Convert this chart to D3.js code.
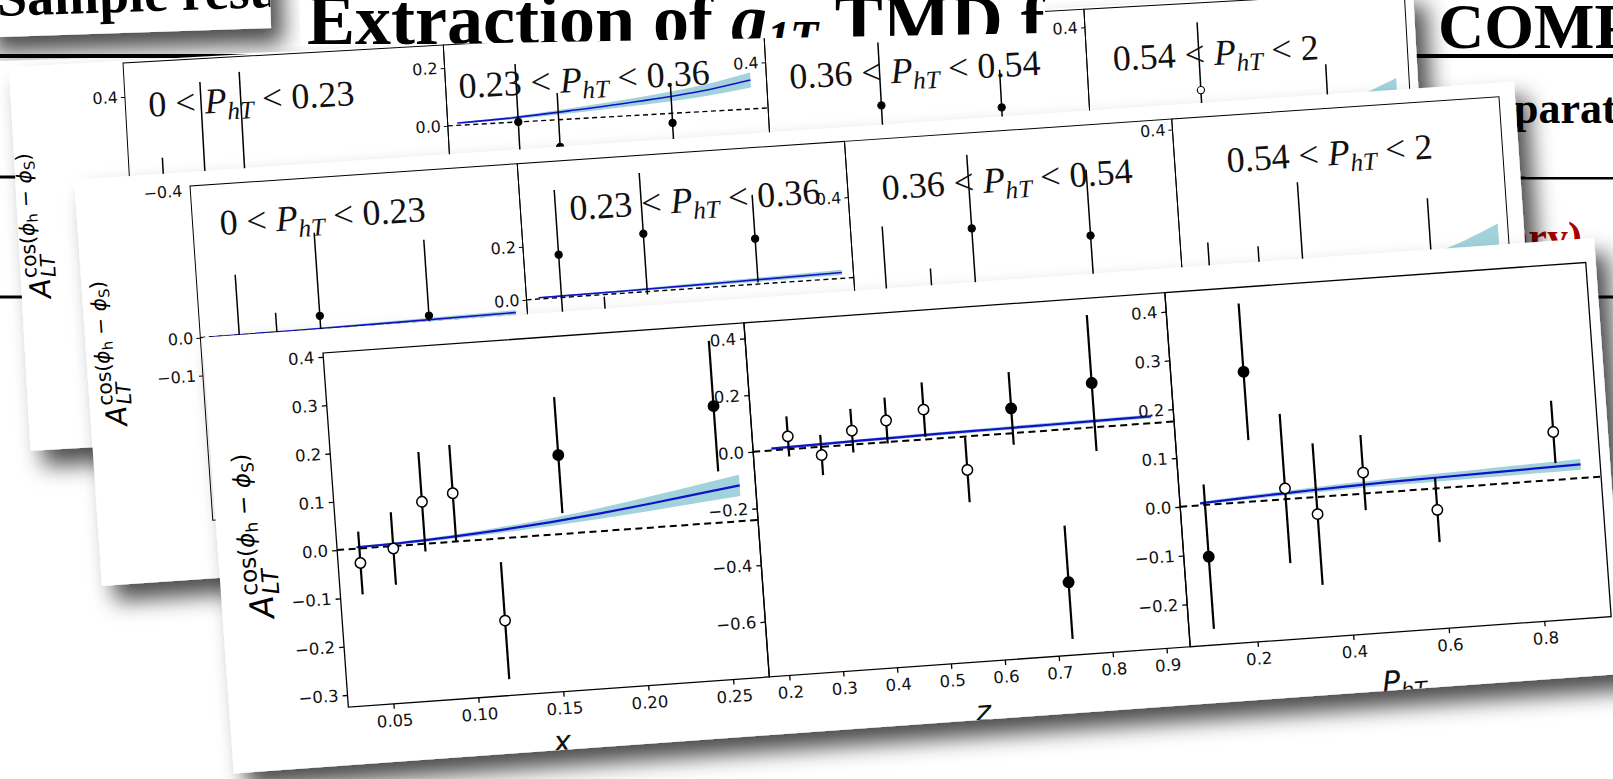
<!DOCTYPE html>
<html>
<head>
<meta charset="utf-8">
<script src="https://cdn.jsdelivr.net/npm/d3@7/dist/d3.min.js"></script>
<style>
  html, body { margin: 0; padding: 0; background: #fff; overflow: hidden; }
  svg { display: block; }
  text { font-family: "DejaVu Sans", sans-serif; }
</style>
</head>
<body>
<div id="chart"></div>
<script>
// ---------- front figure: A_LT vs x, z, P_hT ----------
const xBinX    = [0.0366, 0.0565, 0.0752, 0.0936, 0.1189, 0.157, 0.250];
const xBinY    = [-0.030, -0.005, 0.087, 0.100, -0.170, 0.163, 0.241];
const xBinE    = [0.065, 0.075, 0.103, 0.100, 0.121, 0.120, 0.135];
const xBinOpen = [1, 1, 1, 1, 1, 0, 0];
const xCurveX  = [0.035, 0.06, 0.09, 0.12, 0.15, 0.18, 0.21, 0.24, 0.262];
const xCurveY  = [0.003, 0.005, 0.010, 0.017, 0.026, 0.037, 0.050, 0.064, 0.074];
const xCurveW  = [0.002, 0.003, 0.004, 0.006, 0.008, 0.011, 0.015, 0.019, 0.022];

const zBinX    = [0.229, 0.289, 0.348, 0.4125, 0.483, 0.556, 0.645, 0.728, 0.797];
const zBinY    = [0.045, -0.029, 0.049, 0.076, 0.105, -0.118, 0.087, -0.538, 0.156];
const zBinE    = [0.071, 0.071, 0.077, 0.081, 0.096, 0.114, 0.128, 0.200, 0.240];
const zBinOpen = [1, 1, 1, 1, 1, 1, 0, 0, 0];
const zCurveX  = [0.197, 0.3, 0.4, 0.5, 0.6, 0.7, 0.8, 0.902];
const zCurveY  = [0.006, 0.010, 0.013, 0.016, 0.018, 0.020, 0.022, 0.024];
const zCurveW  = [0.005, 0.005, 0.006, 0.006, 0.006, 0.007, 0.007, 0.007];

const pBinX    = [0.111, 0.211, 0.280, 0.344, 0.445, 0.594, 0.847];
const pBinY    = [-0.106, 0.266, 0.022, -0.035, 0.043, -0.044, 0.098];
const pBinE    = [0.148, 0.140, 0.153, 0.145, 0.077, 0.066, 0.064];
const pBinOpen = [0, 0, 1, 1, 1, 1, 1];
const pCurveX  = [0.101, 0.2, 0.3, 0.4, 0.5, 0.6, 0.7, 0.8, 0.899];
const pCurveY  = [0.004, 0.009, 0.013, 0.017, 0.020, 0.022, 0.024, 0.026, 0.028];
const pCurveW  = [0.003, 0.004, 0.005, 0.006, 0.007, 0.008, 0.009, 0.010, 0.011];

const xYTicks = [-0.3, -0.2, -0.1, 0.0, 0.1, 0.2, 0.3, 0.4];
const xXTicks = [0.05, 0.10, 0.15, 0.20, 0.25];
const zYTicks = [-0.6, -0.4, -0.2, 0.0, 0.2, 0.4];
const zXTicks = [0.2, 0.3, 0.4, 0.5, 0.6, 0.7, 0.8, 0.9];
const pYTicks = [-0.2, -0.1, 0.0, 0.1, 0.2, 0.3, 0.4];
const pXTicks = [0.2, 0.4, 0.6, 0.8];

// ---------- background slides: four P_hT bins ----------
const binLow  = ['0', '0.23', '0.36', '0.54'];
const binHigh = ['0.23', '0.36', '0.54', '2'];

// slide B (behind)
const bYmax   = [0.517, 0.279, 0.521, 0.462];
const bTicks  = [[0.4], [0.0, 0.2], [0.4], [0.4]];
const bPtX    = [[0.106, 0.236, 0.36], [0.22, 0.346, 0.70], [0.353, 0.727], [0.35, 0.743]];
const bPtY    = [[-0.10, 0.05, 0.02], [0.0, -0.094, -0.033], [0.229, 0.199], [0.161, -0.10]];
const bPtE    = [[0.283, 0.387, 0.444], [0.20, 0.186, 0.138], [0.217, 0.13], [0.234, 0.326]];
const bPtOpen = [[0, 0, 0], [0, 0, 0], [0, 0], [1, 0]];
const bCurveX = [[0.03, 0.3, 0.6, 0.96], [0.03, 0.2, 0.4, 0.6, 0.8, 0.95], [0.03, 0.3, 0.6, 0.96], [0.03, 0.2, 0.4, 0.6, 0.77, 0.96]];
const bCurveY = [[0, 0.004, 0.01, 0.02], [0.008, 0.015, 0.03, 0.048, 0.072, 0.10], [0, 0.006, 0.015, 0.03], [0, 0.005, 0.015, 0.03, 0.05, 0.09]];
const bCurveW = [[0.002, 0.003, 0.005, 0.007], [0.002, 0.005, 0.009, 0.014, 0.02, 0.026], [0.002, 0.004, 0.007, 0.01], [0.002, 0.006, 0.012, 0.02, 0.035, 0.075]];

// slide C (middle)
const cYmax   = [0.40, 0.513, 0.61, 0.426];
const cPx     = [38, 26.6, 26.6, 40];
const cTicks  = [[0.0, -0.1], [0.0, 0.2], [0.4], [0.4]];
const cPtX    = [[0.119, 0.234, 0.368, 0.70], [0.107, 0.237, 0.369, 0.708], [0.097, 0.235, 0.369, 0.729], [0.084, 0.236, 0.369, 0.761]];
const cPtY    = [[-0.10, -0.08, 0.036, 0.017], [0.161, -0.15, 0.218, 0.171], [-0.05, -0.10, 0.251, 0.194], [-0.10, -0.05, -0.05, -0.05]];
const cPtE    = [[0.259, 0.132, 0.219, 0.20], [0.244, 0.142, 0.229, 0.165], [0.331, 0.211, 0.277, 0.248], [0.212, 0.144, 0.297, 0.235]];
const cPtOpen = [[0, 0, 0, 0], [0, 0, 0, 0], [0, 0, 0, 0], [0, 0, 0, 0]];
const cCurveX = [[0.03, 0.3, 0.6, 0.965], [0.037, 0.3, 0.6, 0.965], [0.03, 0.3, 0.6, 0.96], [0.03, 0.2, 0.4, 0.6, 0.755, 0.97]];
const cCurveY = [[0, 0.002, 0.005, 0.0095], [0.005, 0.008, 0.014, 0.022], [0, 0.005, 0.012, 0.02], [0, 0.003, 0.008, 0.015, 0.024, 0.05]];
const cCurveW = [[0.001, 0.002, 0.004, 0.006], [0.002, 0.004, 0.007, 0.01], [0.002, 0.003, 0.005, 0.007], [0.002, 0.004, 0.007, 0.012, 0.02, 0.06]];

const BAND = '#a2d3dd';
const BLUE = '#1212c8';
const W = 1613, H = 779;

const svg = d3.select('#chart').append('svg').attr('width', W).attr('height', H);
const defs = svg.append('defs');
defs.append('filter').attr('id', 'shadow')
    .attr('x', '-5%').attr('y', '-10%').attr('width', '115%').attr('height', '140%')
  .append('feDropShadow')
    .attr('dx', 12).attr('dy', 16).attr('stdDeviation', 11)
    .attr('flood-color', '#000').attr('flood-opacity', 0.7);

// 一个带白纸和阴影的倾斜图层
let clipN = 0;
function sheet(ox, oy, angle, x0, y0, x1, y1) {
    const g = svg.append('g').attr('transform', `translate(${ox},${oy}) rotate(${angle})`);
    g.append('rect').attr('x', x0).attr('y', y0).attr('width', x1 - x0).attr('height', y1 - y0)
        .attr('fill', '#fff').attr('filter', 'url(#shadow)');
    const id = 'clip' + (clipN++);
    defs.append('clipPath').attr('id', id).append('rect')
        .attr('x', x0).attr('y', y0).attr('width', x1 - x0).attr('height', y1 - y0);
    return g.append('g').attr('clip-path', `url(#${id})`);
}

// 画一个分面：误差棒、曲线、带、虚线、坐标轴
function drawPanel(g, o) {
    const s = o.s;
    const cd = o.cx.map((v, i) => ({x: v, y: o.cy[i], w: o.cw[i]}));
    g.append('path').datum(cd).attr('fill', BAND)
        .attr('d', d3.area().curve(d3.curveMonotoneX)
            .x(d => o.x(d.x)).y0(d => o.y(d.y - d.w)).y1(d => o.y(d.y + d.w)));
    g.append('path').datum(cd).attr('fill', 'none').attr('stroke', BLUE).attr('stroke-width', s.lw)
        .attr('d', d3.line().curve(d3.curveMonotoneX).x(d => o.x(d.x)).y(d => o.y(d.y)));
    g.append('line').attr('x1', 0).attr('x2', o.w).attr('y1', o.y(0)).attr('y2', o.y(0))
        .attr('stroke', '#000').attr('stroke-width', s.dw).attr('stroke-dasharray', s.dash);

    const pd = o.px.map((v, i) => ({x: v, y: o.py[i], e: o.pe[i], open: o.po[i]}));
    g.selectAll(null).data(pd).enter().append('line')
        .attr('x1', d => o.x(d.x)).attr('x2', d => o.x(d.x))
        .attr('y1', d => o.y(d.y - d.e)).attr('y2', d => o.y(d.y + d.e))
        .attr('stroke', '#000').attr('stroke-width', s.elw);
    g.selectAll(null).data(pd).enter().append('circle')
        .attr('cx', d => o.x(d.x)).attr('cy', d => o.y(d.y)).attr('r', s.r)
        .attr('fill', d => d.open ? '#fff' : '#000')
        .attr('stroke', '#000').attr('stroke-width', s.mew);

    g.append('rect').attr('width', o.w).attr('height', o.h)
        .attr('fill', 'none').attr('stroke', '#000').attr('stroke-width', s.frame);

    const ya = g.append('g').call(d3.axisLeft(o.y).tickValues(o.yTicks)
        .tickSize(s.tick).tickPadding(s.pad).tickFormat(d3.format('.1f')));
    ya.select('.domain').remove();
    ya.selectAll('line').attr('stroke', '#000').attr('stroke-width', s.frame);
    ya.selectAll('text').attr('fill', '#111').style('font-size', s.fs + 'px')
        .style('font-family', '"DejaVu Sans", sans-serif');
    if (o.xTicks) {
        const xa = g.append('g').attr('transform', `translate(0,${o.h})`)
            .call(d3.axisBottom(o.x).tickValues(o.xTicks)
                .tickSize(s.tick).tickPadding(s.pad + 2).tickFormat(d3.format(o.xFmt)));
        xa.select('.domain').remove();
        xa.selectAll('line').attr('stroke', '#000').attr('stroke-width', s.frame);
        xa.selectAll('text').attr('fill', '#111').style('font-size', s.fs + 'px')
            .style('font-family', '"DejaVu Sans", sans-serif');
    }
}

// A_LT^{cos(phi_h - phi_S)} 纵轴标题
function yLabel(g, cx, cy, s) {
    const grp = g.append('g').attr('transform', `translate(${cx},${cy}) rotate(-90)`);
    const b = 0.38 * s;
    const a = grp.append('text').attr('y', b).style('font-size', s + 'px').style('font-style', 'italic').text('A');
    const aw = a.node().getComputedTextLength();
    const sub = grp.append('text').attr('y', b + 0.2 * s).style('font-size', 0.7 * s + 'px')
        .style('font-style', 'italic').text('LT');
    const sup = grp.append('text').attr('y', b - 0.45 * s).style('font-size', 0.7 * s + 'px');
    sup.append('tspan').text('cos(');
    sup.append('tspan').style('font-style', 'italic').text('ϕ');
    sup.append('tspan').attr('dy', 0.14 * s).style('font-size', 0.5 * s + 'px').text('h');
    sup.append('tspan').attr('dy', -0.14 * s).text(' − ');
    sup.append('tspan').style('font-style', 'italic').text('ϕ');
    sup.append('tspan').attr('dy', 0.14 * s).style('font-size', 0.5 * s + 'px').text('S');
    sup.append('tspan').attr('dy', -0.14 * s).text(')');
    const sw = sup.node().getComputedTextLength();
    const x0 = -(aw + sw + 2) / 2;
    a.attr('x', x0);
    sub.attr('x', x0 + aw + 1);
    sup.attr('x', x0 + aw + 1);
}

function binLabel(g, u, v, lo, hi, fs) {
    const t = g.append('text').attr('x', u).attr('y', v)
        .style('font-family', '"Liberation Serif", serif').style('font-size', fs + 'px').attr('fill', '#111');
    t.append('tspan').text(lo + ' < ');
    t.append('tspan').style('font-style', 'italic').text('P');
    t.append('tspan').attr('dy', fs * 0.2).style('font-size', fs * 0.7 + 'px').style('font-style', 'italic').text('hT');
    t.append('tspan').attr('dy', -fs * 0.2).text(' < ' + hi);
}

// ---------- base slide (bottom layer) ----------
const serif = '"Liberation Serif", "Times New Roman", serif';
svg.append('rect').attr('width', W).attr('height', H).attr('fill', '#fff');
svg.append('text').attr('x', 1438).attr('y', 48)
    .style('font-family', serif).style('font-weight', 'bold').style('font-size', '64px').text('COMPASS');
svg.append('line').attr('x1', 0).attr('x2', W).attr('y1', 56).attr('y2', 56).attr('stroke', '#000').attr('stroke-width', 4);
svg.append('text').attr('x', 1470).attr('y', 123)
    .style('font-family', serif).style('font-weight', 'bold').style('font-size', '44px').text('Separate fits');
svg.append('line').attr('x1', 0).attr('x2', W).attr('y1', 177).attr('y2', 178).attr('stroke', '#000').attr('stroke-width', 3);
svg.append('line').attr('x1', 0).attr('x2', W).attr('y1', 297).attr('y2', 297).attr('stroke', '#000').attr('stroke-width', 3);
svg.append('text').attr('x', 1582).attr('y', 251).attr('text-anchor', 'end')
    .style('font-family', serif).style('font-weight', 'bold').style('font-size', '42px')
    .attr('fill', '#a80000').text('(preliminary)');

// ---------- background slide: four bins ----------
function binSlide(L) {
    const c = sheet(L.ox, L.oy, L.angle, L.x0, L.y0, L.x1, L.y1);
    const st = {lw: 1.6, dw: 1.4, dash: '5,3.5', elw: 1.5, r: 3.6, mew: 1.1, frame: 1.0, tick: 4, pad: 3, fs: 16};
    for (let i = 0; i < 4; i++) {
        const pg = c.append('g').attr('transform', `translate(${i * L.pw},0)`);
        const x = d3.scaleLinear().domain([0, 1]).range([0, L.pw]);
        const y = d3.scaleLinear().domain([L.ymax[i] - L.ph / L.px[i] * 0.1, L.ymax[i]]).range([L.ph, 0]);
        drawPanel(pg, {w: L.pw, h: L.ph, x, y,
            cx: L.cx[i], cy: L.cy[i], cw: L.cw[i],
            px: L.ptx[i], py: L.pty[i], pe: L.pte[i], po: L.pto[i],
            yTicks: L.ticks[i], s: st});
        binLabel(pg, L.lu[i], L.lv[i], binLow[i], binHigh[i], 36);
    }
    yLabel(c, L.labX, L.labY, 29);
    return c;
}

binSlide({ox: 123, oy: 63, angle: -3.2, x0: -114, y0: -2, x1: 1292, y1: 382,
    pw: 320.8, ph: 330, ymax: bYmax, px: [29, 29, 29, 29], ticks: bTicks,
    cx: bCurveX, cy: bCurveY, cw: bCurveW, ptx: bPtX, pty: bPtY, pte: bPtE, pto: bPtOpen,
    lu: [23, 13, 23, 26], lv: [55, 54, 63, 63], labX: -96, labY: 157});

// 标题条（压在 B 上）
const stripPts = '280,-5 1045,-5 1045,33 280,47';
svg.append('polygon').attr('points', stripPts).attr('fill', '#fff');
defs.append('clipPath').attr('id', 'clipTitle').append('polygon').attr('points', stripPts);
const title = svg.append('text').attr('clip-path', 'url(#clipTitle)').attr('x', 307).attr('y', 44)
    .style('font-family', serif).style('font-weight', 'bold').style('font-size', '72px');
title.append('tspan').text('Extraction of ');
title.append('tspan').style('font-style', 'italic').text('g');
title.append('tspan').attr('dy', 9).style('font-size', '46px').style('font-style', 'italic').text('1T');
title.append('tspan').attr('dy', -9).text(' TMD from');

// "Sample results" 小纸片
const sb = svg.append('g').attr('transform', 'rotate(-1.9)');
sb.append('rect').attr('x', -20).attr('y', -40).attr('width', 290).attr('height', 77)
    .attr('fill', '#fff').attr('filter', 'url(#shadow)');
defs.append('clipPath').attr('id', 'clipSample').append('rect')
    .attr('x', -20).attr('y', -40).attr('width', 290).attr('height', 77);
sb.append('text').attr('clip-path', 'url(#clipSample)').attr('x', -3).attr('y', 16)
    .style('font-family', serif).style('font-weight', 'bold').style('font-size', '54px').text('Sample results');

const cSlide = binSlide({ox: 190, oy: 186, angle: -3.9, x0: -115, y0: -14, x1: 1328, y1: 393,
    pw: 328, ph: 335, ymax: cYmax, px: cPx, ticks: cTicks,
    cx: cCurveX, cy: cCurveY, cw: cCurveW, ptx: cPtX, pty: cPtY, pte: cPtE, pto: cPtOpen,
    lu: [27, 49, 34, 52], lv: [51, 60, 61, 57], labX: -90, labY: 161});
cSlide.append('text').attr('x', -8).attr('y', 10).attr('text-anchor', 'end')
    .style('font-size', '16px').attr('fill', '#111').text('−0.4');

// ---------- front figure ----------
const PW = 422, PH = 355;
const front = sheet(323, 353, -4.1, -119, -24, 1276, 413);
const fst = {lw: 2.2, dw: 2.0, dash: '7,4.5', elw: 2.2, r: 5.2, mew: 1.5, frame: 1.3, tick: 5, pad: 4, fs: 16.5};

const panels = [
    {xd: [0.0235, 0.2713], yd: [-0.325, 0.408], cx: xCurveX, cy: xCurveY, cw: xCurveW,
     px: xBinX, py: xBinY, pe: xBinE, po: xBinOpen, yTicks: xYTicks, xTicks: xXTicks, xFmt: '.2f', lab: 'x'},
    {xd: [0.163, 0.944], yd: [-0.795, 0.455], cx: zCurveX, cy: zCurveY, cw: zCurveW,
     px: zBinX, py: zBinY, pe: zBinE, po: zBinOpen, yTicks: zYTicks, xTicks: zXTicks, xFmt: '.1f', lab: 'z'},
    {xd: [0.059, 0.94], yd: [-0.287, 0.439], cx: pCurveX, cy: pCurveY, cw: pCurveW,
     px: pBinX, py: pBinY, pe: pBinE, po: pBinOpen, yTicks: pYTicks, xTicks: pXTicks, xFmt: '.1f', lab: 'P'}
];

panels.forEach((p, i) => {
    const pg = front.append('g').attr('transform', `translate(${i * PW},0)`);
    const x = d3.scaleLinear().domain(p.xd).range([0, PW]);
    const y = d3.scaleLinear().domain(p.yd).range([PH, 0]);
    drawPanel(pg, Object.assign({w: PW, h: PH, x, y, s: fst}, p));
    const t = pg.append('text').attr('x', PW / 2).attr('y', PH + 60).attr('text-anchor', 'middle')
        .style('font-size', '30px').style('font-style', 'italic').attr('fill', '#111');
    if (p.lab === 'P') {
        t.append('tspan').text('P');
        t.append('tspan').attr('dy', 6).style('font-size', '21px').text('hT');
    } else {
        t.text(p.lab);
    }
});
yLabel(front, -80, 177, 33);
</script>
</body>
</html>
